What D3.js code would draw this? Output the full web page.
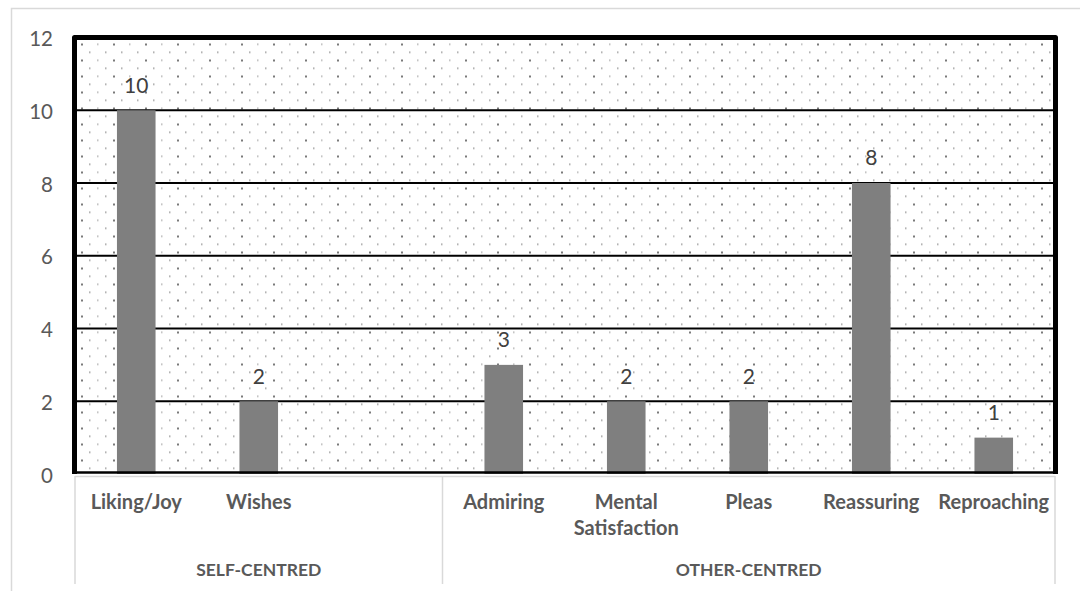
<!DOCTYPE html>
<html>
<head>
<meta charset="utf-8">
<script src="https://cdn.jsdelivr.net/npm/d3@7"></script>
<style>
  html, body { margin: 0; padding: 0; background: #fff; }
  svg { display: block; }
  text { font-family: Lato, "Open Sans", sans-serif; }
</style>
</head>
<body>
<svg id="chart" width="1080" height="591"></svg>
<script>
const categories = ["Liking/Joy", "Wishes", "", "Admiring", "Mental\nSatisfaction", "Pleas", "Reassuring", "Reproaching"];
const values = [10, 2, null, 3, 2, 2, 8, 1];
const groups = ["SELF-CENTRED", "OTHER-CENTRED"];
const groupSizes = [3, 5];
const yTicks = [0, 2, 4, 6, 8, 10, 12];

(function () {
const svg = d3.select("#chart");
const W = 1080, H = 591;
const pL = 75, pR = 1055, pT = 37.5, pB = 474;

// outer chart border (cropped)
svg.append("rect").attr("x", 11.5).attr("y", 8.5).attr("width", W).attr("height", H)
  .attr("fill", "#fff").attr("stroke", "#d9d9d9").attr("stroke-width", 1.5);

const defs = svg.append("defs");
const pat = defs.append("pattern").attr("id", "dots").attr("patternUnits", "userSpaceOnUse")
  .attr("width", 32).attr("height", 16).attr("x", pL + 6).attr("y", pT + 6);
pat.append("rect").attr("width", 32).attr("height", 16).attr("fill", "#fff");
[[0, 0, "#7a7a7a", 2], [16, 0, "#b0b0b0", 1.5], [8, 8, "#9a9a9a", 1.5], [24, 8, "#9a9a9a", 1.5]].forEach(([px, py, c, s]) => {
  pat.append("rect").attr("x", px).attr("y", py).attr("width", s).attr("height", s).attr("fill", c);
});

const x = d3.scaleBand().domain(d3.range(categories.length)).range([pL, pR]).paddingInner(0).paddingOuter(0);
const y = d3.scaleLinear().domain([0, 12]).range([pB, pT]);
const barW = x.bandwidth() * 0.315;

// plot background with pattern
svg.append("rect").attr("x", pL).attr("y", pT).attr("width", pR - pL).attr("height", pB - pT)
  .attr("fill", "url(#dots)");

// gridlines
svg.append("g").selectAll("line").data(yTicks.filter(t => t > 0 && t < 12)).join("line")
  .attr("x1", pL).attr("x2", pR).attr("y1", d => y(d)).attr("y2", d => y(d))
  .attr("stroke", "#000").attr("stroke-width", 2);

// bars
svg.append("g").selectAll("rect").data(values.map((v, i) => ({ v, i })).filter(d => d.v != null)).join("rect")
  .attr("x", d => x(d.i) + (x.bandwidth() - barW) / 2)
  .attr("width", barW)
  .attr("y", d => y(d.v))
  .attr("height", d => y(0) - y(d.v))
  .attr("fill", "#7f7f7f");

// bottom black line
svg.append("line").attr("x1", pL).attr("x2", pR).attr("y1", pB - 1.5).attr("y2", pB - 1.5)
  .attr("stroke", "#000").attr("stroke-width", 2.5);

// thick border left/top/right
svg.append("path")
  .attr("d", `M${pL - 0.5},${pB} L${pL - 0.5},${pT} L${pR + 0.5},${pT} L${pR + 0.5},${pB}`)
  .attr("fill", "none").attr("stroke", "#000").attr("stroke-width", 5).attr("stroke-linejoin", "round");

// y axis tick labels
const yAxis = d3.axisLeft(y).tickValues(yTicks).tickSize(0).tickPadding(0);
const ga = svg.append("g").attr("transform", `translate(53,1.5)`).call(yAxis);
ga.select(".domain").remove();
ga.selectAll("text").attr("font-size", 20.5).attr("fill", "#595959").attr("font-family", "Lato");

// data labels
svg.append("g").selectAll("text").data(values.map((v, i) => ({ v, i })).filter(d => d.v != null)).join("text")
  .attr("x", d => x(d.i) + x.bandwidth() / 2)
  .attr("y", d => y(d.v) - 25)
  .attr("dy", "0.35em")
  .attr("text-anchor", "middle")
  .attr("font-size", 21).attr("fill", "#404040")
  .text(d => d.v);

// category axis lines
svg.append("line").attr("x1", pL).attr("x2", pR).attr("y1", 476.5).attr("y2", 476.5)
  .attr("stroke", "#d9d9d9").attr("stroke-width", 1.5);
let bounds = [0];
groupSizes.forEach(s => bounds.push(bounds[bounds.length - 1] + s));
const bx = b => b < categories.length ? x(b) : pR;
svg.append("g").selectAll("line").data(bounds).join("line")
  .attr("x1", bx).attr("x2", bx)
  .attr("y1", 476).attr("y2", 584)
  .attr("stroke", "#d9d9d9").attr("stroke-width", 1.5);

// category labels
const cl = svg.append("g").selectAll("text").data(categories.map((c, i) => ({ c, i }))).join("text")
  .attr("text-anchor", "middle")
  .attr("font-size", 20).attr("font-weight", "bold").attr("fill", "#595959");
cl.each(function (d) {
  d.c.split("\n").forEach((line, k) => {
    d3.select(this).append("tspan").attr("x", x(d.i) + x.bandwidth() / 2).attr("y", 502 + k * 26).attr("dy", "0.35em").text(line);
  });
});

// group labels
svg.append("g").selectAll("text").data(groups.map((g, k) => ({ g, k }))).join("text")
  .attr("x", d => (bx(bounds[d.k]) + bx(bounds[d.k + 1])) / 2)
  .attr("y", 570).attr("dy", "0.35em")
  .attr("text-anchor", "middle")
  .attr("font-size", 17.5).attr("font-weight", "bold").attr("fill", "#595959")
  .text(d => d.g);
})();
</script>
</body>
</html>
